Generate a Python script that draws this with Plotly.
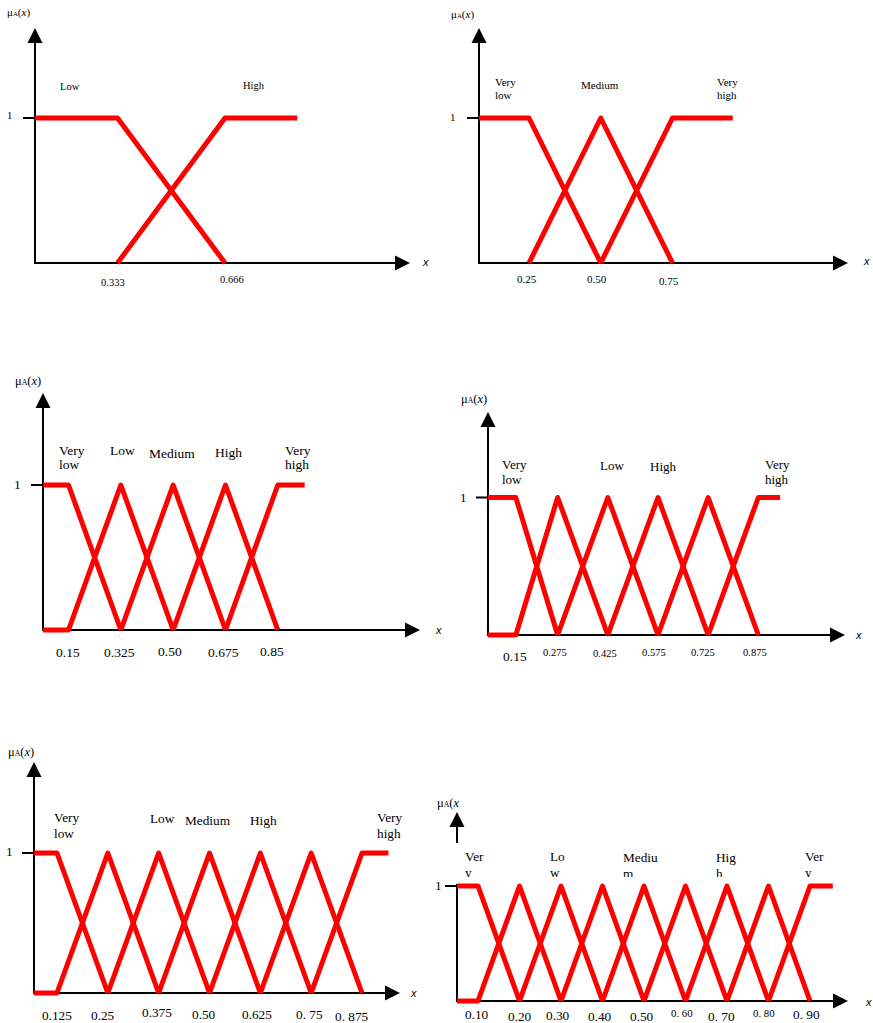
import plotly.graph_objects as go

W, H = 873, 1023
RED = "#ff0000"
SERIF = "Liberation Serif, Times New Roman, serif"
SANS = "Liberation Sans, Arial, sans-serif"

# ---------------- membership-function data (one block per partition) ----------------
P1_CENTRES = [0.333, 0.666]
P1_END = 0.89
P1_TICKS = ["0.333", "0.666"]
P1_TERMS = [["Low"], ["High"]]

P2_CENTRES = [0.25, 0.50, 0.75]
P2_END = 0.96
P2_TICKS = ["0.25", "0.50", "0.75"]
P2_TERMS = [["Very", "low"], ["Medium"], ["Very", "high"]]

P3_CENTRES = [0.15, 0.325, 0.50, 0.675, 0.85]
P3_END = 0.94
P3_TICKS = ["0.15", "0.325", "0.50", "0.675", "0.85"]
P3_TERMS = [["Very", "low"], ["Low"], ["Medium"], ["High"], ["Very", "high"]]

P4_CENTRES = [0.15, 0.275, 0.425, 0.575, 0.725, 0.875]
P4_END = 0.94
P4_TICKS = ["0.15", "0.275", "0.425", "0.575", "0.725", "0.875"]
P4_TERMS = [["Very", "low"], ["Low"], ["High"], ["Very", "high"]]

P5_CENTRES = [0.125, 0.25, 0.375, 0.50, 0.625, 0.75, 0.875]
P5_END = 0.94
P5_TICKS = ["0.125", "0.25", "0.375", "0.50", "0.625", "0. 75", "0. 875"]
P5_TERMS = [["Very", "low"], ["Low"], ["Medium"], ["High"], ["Very", "high"]]

P6_CENTRES = [0.10, 0.20, 0.30, 0.40, 0.50, 0.60, 0.70, 0.80, 0.90]
P6_END = 0.955
P6_TICKS = ["0.10", "0.20", "0.30", "0.40", "0.50", "0. 60", "0. 70", "0. 80", "0. 90"]
P6_TERMS = [["Ver", "y"], ["Lo", "w"], ["Mediu", "m"], ["Hig", "h"], ["Ver", "y"]]

# ---------------- panel geometry (pixels in the 873x1023 page) ----------------
# ax: y-axis x, ay: x-axis y, one: level of membership 1, ytop: y-arrow tip,
# xtip: x-arrow tip, xr: visible x range
PANELS = [
    dict(c=P1_CENTRES, end=P1_END, ticks=P1_TICKS, terms=P1_TERMS, floor=False,
         ax=35, ay=263, one=118, ytop=28, xtip=410, xr=[0.0774, 1.2391], fs=10.5,
         tick_y=[282, 279], tick_fs=[10.5, 10.5], tick_dx=[-5, 7],
         term_pos=[(70, 86, "center"), (254, 85, "center")], gap=12.5,
         one_lbl=(9, 115), mu=(18, 13, "center"), xlbl=(425, 262)),
    dict(c=P2_CENTRES, end=P2_END, ticks=P2_TICKS, terms=P2_TERMS, floor=False,
         ax=479, ay=263, one=118, ytop=28, xtip=848, xr=[0.0758, 1.3615], fs=11,
         tick_y=[279, 279, 281], tick_fs=[11] * 3, tick_dx=[-2, -4, -4],
         term_pos=[(493, 82, "left"), (600, 85, "center"), (715, 82, "left")], gap=12.5,
         one_lbl=(453, 117), mu=(462, 15, "center"), xlbl=(866, 261)),
    dict(c=P3_CENTRES, end=P3_END, ticks=P3_TICKS, terms=P3_TERMS, floor=True,
         ax=43, ay=630, one=485, ytop=393, xtip=420, xr=[0.0647, 1.3256], fs=13.5,
         tick_y=[652, 652, 651, 652, 651], tick_fs=[13.5] * 5, tick_dx=[-1, -1, -3, -2, -6],
         term_pos=[(57, 450, "left"), (122, 450, "center"), (172, 453, "center"),
                   (228, 452, "center"), (283, 450, "left")], gap=14,
         one_lbl=(17, 484), mu=(28, 381, "center"), xlbl=(438, 630)),
    dict(c=P4_CENTRES, end=P4_END, ticks=P4_TICKS, terms=P4_TERMS, floor=True,
         ax=488, ay=635, one=497.5, ytop=412, xtip=845, xr=[0.0668, 1.1341], fs=13,
         tick_y=[656, 652, 653, 652, 652, 652], tick_fs=[13.5] + [10.5] * 5,
         tick_dx=[-1, -3, -3, -4, -5, -3],
         term_pos=[(500, 464, "left"), (612, 465, "center"), (663, 466, "center"),
                   (763, 464, "left")], gap=15,
         one_lbl=(463, 497), mu=(474, 399, "center"), xlbl=(858, 635)),
    dict(c=P5_CENTRES, end=P5_END, ticks=P5_TICKS, terms=P5_TERMS, floor=True,
         ax=34, ay=993, one=853, ytop=762, xtip=400, xr=[0.0685, 0.9684], fs=13.3,
         tick_y=[1015, 1015, 1012, 1014, 1014, 1014, 1016], tick_fs=[13.3] * 7,
         tick_dx=[0, -5, -2, -6, -3, -2, -10],
         term_pos=[(52, 817, "left"), (162, 818, "center"), (208, 820, "center"),
                   (263, 820, "center"), (375, 817, "left")], gap=16,
         one_lbl=(9, 851), mu=(21, 752, "center"), xlbl=(413, 993)),
    dict(c=P6_CENTRES, end=P6_END, ticks=P6_TICKS, terms=P6_TERMS, floor=True,
         ax=457, ay=1001, one=886, ytop=812, xtip=848, xr=[0.0494, 0.9916], fs=13.3,
         tick_y=[1014, 1016, 1015, 1016, 1016, 1013, 1016, 1013, 1014],
         tick_fs=[13.3] * 5 + [10.8, 13.3, 10.8, 13.3],
         tick_dx=[-1, 0, -3, -2, -2, -3, -5, -4, -3],
         term_pos=[(468, 858, "left"), (553, 858, "left"), (626, 859, "left"),
                   (719, 859, "left"), (808, 858, "left")], gap=16,
         one_lbl=(438, 885), mu=(435, 803, "left"), xlbl=(868, 1002),
         axis_gap=(843, 884)),
]


def fx(px):
    return px / W


def fy(py):
    return 1 - py / H


def memberships(c, end, floor):
    """Left shoulder, interior triangles and right shoulder for centres c."""
    sets = [([0.0, c[0], c[1]], [1, 1, 0])]
    for k in range(1, len(c) - 1):
        xs, ys = [c[k - 1], c[k], c[k + 1]], [0, 1, 0]
        if k == 1 and floor:
            xs, ys = [0.0] + xs, [0] + ys
        sets.append((xs, ys))
    sets.append(([c[-2], c[-1], end], [0, 1, 1]))
    return sets


fig = go.Figure()
shapes, annotations = [], []
layout_axes = {}


def line(x0, y0, x1, y1, w=2):
    shapes.append(dict(type="line", xref="paper", yref="paper",
                       x0=fx(x0), y0=fy(y0), x1=fx(x1), y1=fy(y1),
                       line=dict(color="black", width=w), layer="below"))


def tri(pts):
    d = "M " + " L ".join(f"{fx(a):.5f},{fy(b):.5f}" for a, b in pts) + " Z"
    shapes.append(dict(type="path", xref="paper", yref="paper", path=d,
                       fillcolor="black", line=dict(color="black", width=0), layer="below"))


def text(t, x, y, size, anchor="center", family=SERIF, style="normal"):
    annotations.append(dict(text=t, x=fx(x), y=fy(y), xref="paper", yref="paper",
                            xanchor=anchor, yanchor="middle", showarrow=False,
                            font=dict(family=family, size=size, color="black", style=style)))


for i, p in enumerate(PANELS, start=1):
    sfx = "" if i == 1 else str(i)
    xr_ref, yr_ref = "x" + sfx, "y" + sfx
    s = p["ay"] - p["one"]               # pixels per membership unit
    pad = 10
    layout_axes["xaxis" + sfx] = dict(domain=[fx(p["ax"]), fx(p["xtip"])], range=p["xr"],
                                      visible=False, anchor=yr_ref, fixedrange=True)
    layout_axes["yaxis" + sfx] = dict(domain=[fy(p["ay"] + pad), fy(p["ytop"])],
                                      range=[-pad / s, (p["ay"] - p["ytop"]) / s],
                                      visible=False, anchor=xr_ref, fixedrange=True)

    # membership functions
    for xs, ys in memberships(p["c"], p["end"], p["floor"]):
        fig.add_trace(go.Scatter(x=xs, y=ys, mode="lines", xaxis=xr_ref, yaxis=yr_ref,
                                 line=dict(color=RED, width=5), hoverinfo="skip",
                                 showlegend=False))

    # axes with arrowheads
    ax, ay = p["ax"], p["ay"]
    line(ax - 1, ay, p["xtip"] - 14, ay)
    if "axis_gap" in p:
        g0, g1 = p["axis_gap"]
        line(ax, ay + 1, ax, g1)
        line(ax, g0, ax, p["ytop"] + 14)
    else:
        line(ax, ay + 1, ax, p["ytop"] + 14)
    tri([(ax, p["ytop"]), (ax - 7.5, p["ytop"] + 15), (ax + 7.5, p["ytop"] + 15)])
    tri([(p["xtip"], ay), (p["xtip"] - 15, ay - 7.5), (p["xtip"] - 15, ay + 7.5)])
    line(ax - 12, p["one"], ax, p["one"])

    # "1" label, axis names
    text("1", p["one_lbl"][0], p["one_lbl"][1], p["fs"])
    mu_fs = 12.5 if i > 2 else 11
    tail = "(<i>x</i>)" if i < 6 else "(<i>x</i>"
    mu = f"μ<span style='font-size:{mu_fs * 0.62:.1f}px'>A</span>{tail}"
    text(mu, p["mu"][0], p["mu"][1], mu_fs, anchor=p["mu"][2])
    text("x", p["xlbl"][0], p["xlbl"][1], 11, family=SANS, style="italic")

    # tick labels at the centres
    for cx, lab, ty, tfs, dx in zip(p["c"], p["ticks"], p["tick_y"], p["tick_fs"], p["tick_dx"]):
        annotations.append(dict(text=lab, x=cx, xref=xr_ref, y=fy(ty), yref="paper",
                                xanchor="center", yanchor="middle", xshift=dx,
                                showarrow=False,
                                font=dict(family=SERIF, size=tfs, color="black")))

    # linguistic term labels
    if i < 6:
        for lines_, (tx, ty, anc) in zip(p["terms"], p["term_pos"]):
            for j, ln in enumerate(lines_):
                text(ln, tx, ty + j * p["gap"], p["fs"], anchor=anc)
    else:
        # label boxes are cropped just above the membership-1 level
        lx, ly, lt = [], [], []
        for lines_, (tx, ty, anc) in zip(p["terms"], p["term_pos"]):
            for j, ln in enumerate(lines_):
                lx.append(tx - 3)
                ly.append(ty + j * p["gap"])
                lt.append(ln)
        layout_axes["xaxis7"] = dict(domain=[fx(440), 1], range=[440, W], visible=False,
                                     anchor="y7", fixedrange=True)
        layout_axes["yaxis7"] = dict(domain=[fy(877), fy(838)], range=[877, 838],
                                     visible=False, anchor="x7", fixedrange=True)
        fig.add_trace(go.Scatter(x=lx, y=ly, text=lt, mode="text", xaxis="x7", yaxis="y7",
                                 textposition="middle right", cliponaxis=True,
                                 textfont=dict(family=SERIF, size=p["fs"], color="black"),
                                 hoverinfo="skip", showlegend=False))

fig.update_layout(width=W, height=H, margin=dict(l=0, r=0, t=0, b=0),
                  paper_bgcolor="white", plot_bgcolor="rgba(0,0,0,0)",
                  shapes=shapes, annotations=annotations, showlegend=False,
                  **layout_axes)

fig.write_html("out.html", config={"displayModeBar": False, "staticPlot": True},
               post_script="var s=document.createElement('style');"
                           "s.textContent='.js-line{stroke-linejoin:round;}';"
                           "document.head.appendChild(s);")
